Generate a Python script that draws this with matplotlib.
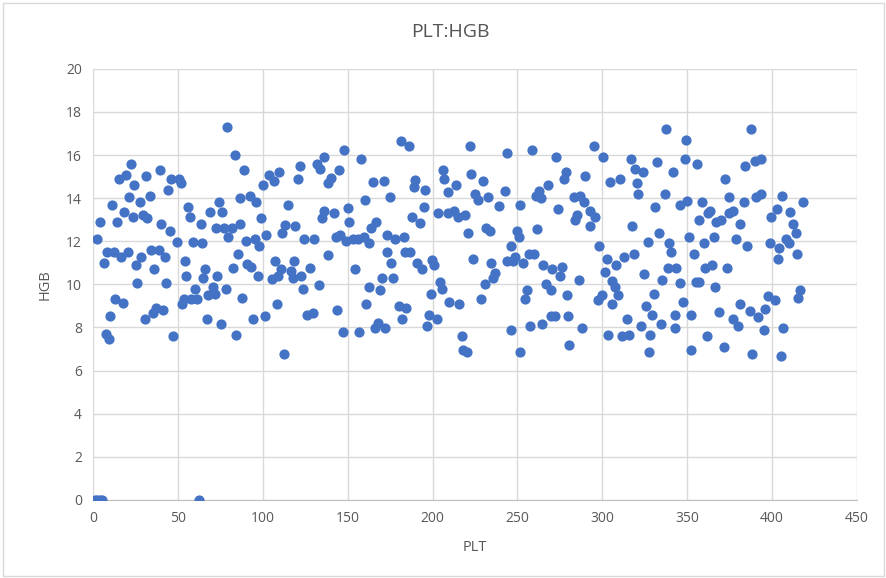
import matplotlib
matplotlib.use("Agg")
import matplotlib.pyplot as plt
from matplotlib.patches import Rectangle

plt.rcParams['font.family'] = ['Open Sans', 'DejaVu Sans']

plt_values = [
    # zeros
    1, 2.5, 4, 5.5, 62.4,
    # 0-68
    22.2, 39.4, 15.1, 19.6, 31.4, 24.1, 46.1, 50.6, 51.6, 44.1, 21.0, 33.3, 27.5, 11.2, 18.2,
    23.5, 29.4, 32.0, 4.3, 14.3, 40.2, 45.1, 2.4, 49.2, 55.9, 56.9, 63.3, 58.8, 64.1, 8.4,
    12.4, 16.3, 20.6, 6.5, 28.4, 25.1, 34.3, 38.6, 42.5, 35.9, 53.9, 66.1, 54.9, 64.7, 26.1,
    42.9, 60.2, 67.5, 12.7, 17.6, 53.5, 52.4, 57.8, 61.4, 10.0, 30.4, 35.3, 37.3, 41.4, 67.3,
    7.3, 9.2, 47.1,
    # 68-138
    78.8, 83.3, 88.8, 103.9, 106.3, 109.8, 100.0, 122.0, 120.6, 131.8, 133.7, 135.9, 138.2, 74.3, 69.0,
    75.9, 86.3, 92.2, 96.1, 115.1, 99.0, 136.3, 134.7, 113.1, 119.0, 111.4, 72.2, 77.1, 82.0, 86.5,
    79.6, 89.8, 95.1, 97.6, 102.0, 124.5, 130.4, 85.3, 90.8, 93.1, 82.7, 97.3, 106.9, 110.8, 116.3,
    118.6, 128.0, 73.1, 105.3, 108.8, 117.6, 122.5, 138.2, 123.5, 133.1, 70.5, 71.6, 78.2, 87.8, 108.2,
    126.1, 129.5, 101.0, 94.1, 75.6, 84.0, 112.7,
    # 138-210
    181.2, 185.9, 148.0, 157.9, 206.3, 206.9, 144.7, 140.1, 164.8, 171.1, 189.9, 188.9, 195.5, 208.9, 174.7,
    159.9, 150.0, 195.1, 203.4, 209.3, 141.7, 188.0, 192.5, 151.0, 166.8, 163.8, 143.1, 145.7, 148.9, 152.9,
    155.9, 159.5, 162.5, 173.3, 177.7, 183.2, 173.1, 183.6, 186.9, 175.3, 190.7, 193.7, 199.8, 201.0, 154.5,
    170.2, 176.7, 204.3, 205.3, 199.0, 162.3, 169.2, 209.7, 160.9, 143.7, 180.0, 184.6, 182.1, 197.8, 202.4,
    196.8, 167.8, 165.8, 171.7, 147.0, 156.9,
    # 210-280
    222.0, 243.7, 258.8, 272.5, 222.9, 229.8, 214.1, 224.9, 226.5, 232.7, 242.9, 268.0, 262.7, 261.2, 264.1,
    278.8, 277.5, 239.2, 251.4, 273.9, 212.7, 215.1, 219.0, 220.6, 231.4, 233.7, 250.0, 250.8, 261.6, 246.5,
    223.7, 234.5, 243.9, 247.5, 248.8, 253.1, 257.1, 259.8, 264.9, 270.2, 276.1, 275.1, 236.5, 235.5, 230.8,
    266.7, 270.0, 255.9, 254.7, 279.2, 215.7, 228.4, 269.6, 272.4, 279.8, 264.5, 257.3, 246.1, 217.5, 218.1,
    220.0, 251.8, 280.2,
    # 280-352
    337.7, 295.0, 349.6, 300.4, 316.9, 332.3, 348.6, 319.2, 323.8, 341.7, 290.1, 304.6, 310.3, 320.2, 321.2,
    336.7, 283.1, 287.1, 289.1, 293.0, 296.0, 285.1, 284.1, 292.5, 331.3, 345.6, 350.0, 317.3, 333.3, 326.8,
    339.3, 351.0, 298.0, 302.6, 308.3, 312.9, 318.5, 340.3, 301.6, 286.1, 305.6, 307.3, 309.3, 324.4, 338.5,
    343.5, 334.9, 345.8, 297.4, 299.6, 305.9, 330.4, 325.6, 329.2, 347.6, 342.7, 314.5, 322.8, 334.5, 343.0,
    288.1, 303.6, 311.5, 315.5, 328.4, 327.4, 352.0,
    # 352-420
    387.8, 355.9, 384.3, 389.8, 393.3, 372.5, 358.8, 374.5, 383.5, 390.8, 393.3, 406.1, 418.4, 362.4, 363.7,
    357.1, 367.1, 369.8, 374.9, 377.3, 381.2, 399.6, 402.9, 410.4, 412.4, 414.0, 360.0, 365.9, 378.6, 385.5,
    398.6, 404.1, 408.4, 410.0, 414.9, 353.9, 403.5, 360.4, 364.9, 373.5, 355.5, 356.9, 366.7, 352.5, 368.8,
    381.0, 386.9, 391.8, 395.7, 397.6, 401.6, 416.3, 415.3, 376.9, 379.8, 395.1, 406.3, 361.6, 371.6, 388.4,
    405.5,
]

hgb_values = [
    0, 0, 0, 0, 0,
    15.58, 15.3, 14.88, 15.07, 15.02, 14.6, 14.9, 14.9, 14.7, 14.4, 14.03, 14.1, 13.8, 13.69, 13.38,
    13.13, 13.2, 13.1, 12.9, 12.9, 12.82, 12.48, 12.09, 11.98, 13.6, 13.13, 12.8, 11.98, 11.9, 11.5,
    11.5, 11.27, 11.5, 11.0, 11.27, 10.9, 11.6, 11.6, 11.27, 10.7, 11.08, 10.7, 10.37, 10.3, 10.08,
    10.08, 9.8, 9.49, 9.3, 9.15, 9.3, 9.09, 9.3, 9.3, 8.51, 8.4, 8.67, 8.9, 8.79, 8.4,
    7.7, 7.47, 7.6,
    17.29, 16.0, 15.3, 15.07, 14.8, 15.22, 14.6, 15.5, 14.9, 15.6, 15.33, 15.92, 14.7, 13.8, 13.38,
    13.38, 14.0, 14.1, 13.8, 13.69, 13.1, 13.4, 13.1, 12.74, 12.7, 12.4, 12.62, 12.62, 12.62, 12.82,
    12.2, 12.0, 12.12, 11.78, 12.28, 12.09, 12.09, 11.43, 10.96, 10.8, 10.78, 10.37, 11.07, 10.73, 10.6,
    11.07, 10.78, 10.37, 10.23, 10.39, 10.3, 10.37, 11.38, 9.8, 9.98, 9.88, 9.57, 9.8, 9.38, 9.09,
    8.59, 8.68, 8.51, 8.4, 8.17, 7.67, 6.78,
    16.65, 16.42, 16.23, 15.8, 15.3, 14.9, 15.3, 14.95, 14.73, 14.8, 14.84, 14.53, 14.37, 14.3, 14.05,
    13.9, 13.55, 13.6, 13.3, 13.3, 13.3, 13.13, 12.87, 12.9, 12.9, 12.6, 12.2, 12.3, 12.0, 12.12,
    12.12, 12.2, 11.9, 12.3, 12.09, 12.2, 11.5, 11.5, 11.5, 11.0, 11.0, 10.7, 11.12, 10.88, 10.7,
    10.3, 10.3, 10.1, 9.8, 9.57, 9.88, 9.72, 9.18, 9.07, 8.79, 8.99, 8.9, 8.4, 8.56, 8.4,
    8.09, 8.22, 7.97, 7.97, 7.78, 7.78,
    16.42, 16.08, 16.22, 15.92, 15.1, 14.8, 14.6, 14.2, 13.9, 14.03, 14.33, 14.6, 14.33, 14.1, 14.0,
    15.22, 14.88, 13.64, 13.7, 13.5, 13.4, 13.13, 13.2, 12.4, 12.62, 12.48, 12.48, 12.2, 12.59, 11.78,
    11.19, 11.0, 11.08, 11.08, 11.27, 11.0, 11.43, 11.43, 10.91, 10.7, 10.81, 10.37, 10.54, 10.3, 10.0,
    10.0, 9.72, 9.72, 9.3, 9.49, 9.09, 9.3, 8.51, 8.51, 8.51, 8.17, 8.09, 7.9, 7.6, 6.96,
    6.88, 6.88, 7.2,
    17.2, 16.42, 16.7, 15.92, 15.8, 15.69, 15.8, 15.33, 15.22, 15.22, 15.02, 14.73, 14.9, 14.7, 14.19,
    14.19, 14.03, 14.1, 13.8, 13.4, 13.13, 13.2, 12.98, 12.7, 13.6, 13.69, 13.86, 12.7, 12.4, 11.97,
    11.9, 12.2, 11.78, 11.19, 10.91, 11.27, 11.43, 11.5, 10.57, 10.22, 10.14, 9.88, 9.49, 10.5, 10.78,
    10.78, 10.22, 10.08, 9.29, 9.49, 9.07, 9.57, 8.99, 8.59, 9.18, 8.59, 8.4, 8.09, 8.17, 7.98,
    7.98, 7.67, 7.6, 7.67, 7.67, 6.88, 6.96,
    17.2, 15.58, 15.5, 15.72, 15.8, 14.88, 13.8, 14.03, 13.8, 14.03, 14.19, 14.11, 13.8, 13.33, 13.4,
    12.98, 12.9, 12.98, 13.33, 13.4, 12.82, 13.13, 13.5, 13.38, 12.82, 12.4, 11.9, 12.2, 12.09, 11.78,
    11.93, 11.69, 12.12, 11.9, 11.43, 11.43, 11.19, 10.78, 10.91, 10.78, 10.1, 10.1, 9.88, 8.56, 8.71,
    9.07, 8.76, 8.48, 8.88, 9.46, 9.27, 9.72, 9.36, 8.4, 8.09, 7.9, 7.98, 7.6, 7.1, 6.78,
    6.7,
]

x_ticks = [0, 50, 100, 150, 200, 250, 300, 350, 400, 450]
y_ticks = [0, 2, 4, 6, 8, 10, 12, 14, 16, 18, 20]

text_color = '#595959'
grid_color = '#d9d9d9'
dot_color = '#4472C4'

fig = plt.figure(figsize=(8.87, 5.78), dpi=100)
fig.patches.append(Rectangle((0.003, 0.003), 0.994, 0.992, transform=fig.transFigure,
                             fill=False, edgecolor='#d9d9d9', linewidth=1.0))
ax = fig.add_axes([0.105, 0.135, 0.861, 0.746])

ax.scatter(plt_values, hgb_values, s=54, color=dot_color, zorder=3, linewidths=0)

ax.set_xlim(0, 450)
ax.set_ylim(0, 20)
ax.set_xticks(x_ticks)
ax.set_yticks(y_ticks)
ax.grid(True, color=grid_color, linewidth=1.0, zorder=0)
ax.set_axisbelow(True)
for side in ['top', 'right', 'left']:
    ax.spines[side].set_visible(False)
ax.spines['bottom'].set_color('#bfbfbf')
ax.tick_params(axis='both', length=0, colors=text_color, labelsize=10, pad=8)

fig.text(0.508, 0.945, 'PLT:HGB', fontsize=14, color='#555555', ha='center', va='center')
ax.set_xlabel('PLT', fontsize=10.5, color=text_color, labelpad=10)
ax.set_ylabel('HGB', fontsize=10.5, color=text_color, labelpad=10)

fig.savefig('out.png', dpi=100)
